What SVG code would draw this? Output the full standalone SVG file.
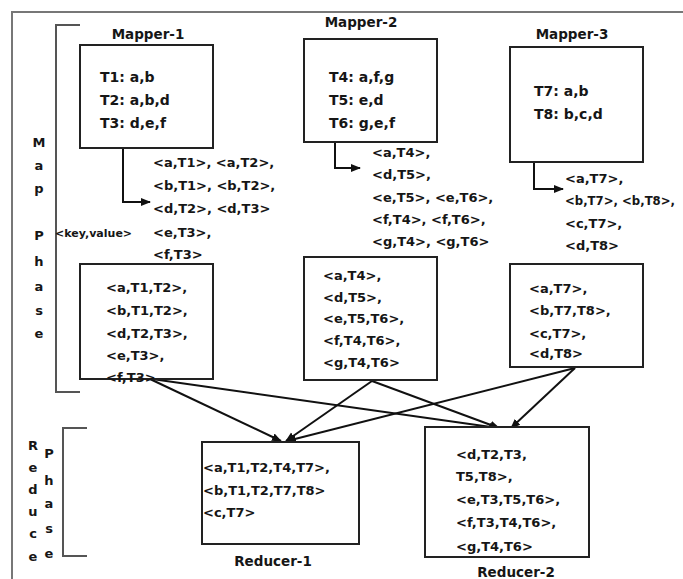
<svg xmlns="http://www.w3.org/2000/svg" width="683" height="579" viewBox="0 0 683 579">
<style>
text{font-family:"DejaVu Sans","Liberation Sans",sans-serif;font-weight:bold;fill:#161616}
.t{font-size:14px}
.k{font-size:13px}
.lab{font-size:13.5px;text-anchor:middle}
.ph{font-size:13px;text-anchor:middle}
.kv{font-size:11px}
.box{fill:#fff;stroke:#222;stroke-width:2}
.br{fill:none;stroke:#555;stroke-width:2}
.con{fill:none;stroke:#111;stroke-width:2}
</style>
<defs>
<marker id="ah" viewBox="0 0 10 10" refX="9" refY="5" markerWidth="10" markerHeight="10" markerUnits="userSpaceOnUse" orient="auto">
<path d="M0,1 L10,5 L0,9 z" fill="#111"/>
</marker>
</defs>
<rect width="683" height="579" fill="#fff"/>
<rect x="12" y="12" width="690" height="600" fill="none" stroke="#777" stroke-width="2"/>

<g id="map-phase">
<path class="br" d="M80,25 H56 V392 H80"/>
<text class="ph" x="39" y="147">M</text>
<text class="ph" x="39" y="170">a</text>
<text class="ph" x="39" y="193">p</text>
<text class="ph" x="39" y="240">P</text>
<text class="ph" x="39" y="266">h</text>
<text class="ph" x="39" y="291">a</text>
<text class="ph" x="39" y="315">s</text>
<text class="ph" x="39" y="338">e</text>
<text class="kv" x="55" y="237">&lt;key,value&gt;</text>
</g>

<g id="reduce-phase">
<path class="br" d="M87,428 H63 V556 H87"/>
<text class="ph" x="33" y="450">R</text>
<text class="ph" x="33" y="472">e</text>
<text class="ph" x="33" y="494">d</text>
<text class="ph" x="33" y="516">u</text>
<text class="ph" x="33" y="538">c</text>
<text class="ph" x="33" y="561">e</text>
<text class="ph" x="49" y="458">P</text>
<text class="ph" x="49" y="485">h</text>
<text class="ph" x="49" y="508">a</text>
<text class="ph" x="49" y="533">s</text>
<text class="ph" x="49" y="558">e</text>
</g>

<g id="connectors">
<polyline class="con" points="123,148 123,202 150,202" marker-end="url(#ah)"/>
<polyline class="con" points="335,142 335,168 360,168" marker-end="url(#ah)"/>
<polyline class="con" points="534,162 534,189 563,189" marker-end="url(#ah)"/>
<line class="con" x1="150" y1="379" x2="281" y2="441" marker-end="url(#ah)"/>
<line class="con" x1="152" y1="379" x2="498" y2="428" marker-end="url(#ah)"/>
<line class="con" x1="372" y1="381" x2="286" y2="441" marker-end="url(#ah)"/>
<line class="con" x1="372" y1="381" x2="499" y2="428" marker-end="url(#ah)"/>
<line class="con" x1="575" y1="368" x2="287" y2="441" marker-end="url(#ah)"/>
<line class="con" x1="575" y1="368" x2="511" y2="428" marker-end="url(#ah)"/>
</g>

<g id="mapper-1">
<text class="lab" x="148" y="39">Mapper-1</text>
<rect class="box" x="80" y="45" width="133" height="103"/>
<text class="t" x="100" y="82">T1: a,b</text>
<text class="t" x="100" y="105">T2: a,b,d</text>
<text class="t" x="100" y="128">T3: d,e,f</text>
</g>
<g id="mapper-2">
<text class="lab" x="361" y="27">Mapper-2</text>
<rect class="box" x="304" y="39" width="133" height="103"/>
<text class="t" x="329" y="82">T4: a,f,g</text>
<text class="t" x="329" y="105">T5: e,d</text>
<text class="t" x="329" y="128">T6: g,e,f</text>
</g>
<g id="mapper-3">
<text class="lab" x="572" y="39">Mapper-3</text>
<rect class="box" x="510" y="47" width="133" height="115"/>
<text class="t" x="534" y="96">T7: a,b</text>
<text class="t" x="534" y="119">T8: b,c,d</text>
</g>

<g id="pairs-1">
<text class="k" x="153" y="167">&lt;a,T1&gt;, &lt;a,T2&gt;,</text>
<text class="k" x="153" y="190">&lt;b,T1&gt;, &lt;b,T2&gt;,</text>
<text class="k" x="153" y="213">&lt;d,T2&gt;, &lt;d,T3&gt;</text>
<text class="k" x="153" y="237">&lt;e,T3&gt;,</text>
<text class="k" x="153" y="259">&lt;f,T3&gt;</text>
</g>
<g id="pairs-2">
<text class="k" x="372" y="157">&lt;a,T4&gt;,</text>
<text class="k" x="372" y="179">&lt;d,T5&gt;,</text>
<text class="k" x="372" y="202">&lt;e,T5&gt;, &lt;e,T6&gt;,</text>
<text class="k" x="372" y="224">&lt;f,T4&gt;, &lt;f,T6&gt;,</text>
<text class="k" x="372" y="246">&lt;g,T4&gt;, &lt;g,T6&gt;</text>
</g>
<g id="pairs-3">
<text class="k" x="565" y="183">&lt;a,T7&gt;,</text>
<text class="k" x="565" y="205" textLength="110" lengthAdjust="spacingAndGlyphs">&lt;b,T7&gt;, &lt;b,T8&gt;,</text>
<text class="k" x="565" y="228">&lt;c,T7&gt;,</text>
<text class="k" x="565" y="250">&lt;d,T8&gt;</text>
</g>

<g id="combined-1">
<rect class="box" x="80" y="264" width="133" height="115"/>
<text class="k" x="106" y="292">&lt;a,T1,T2&gt;,</text>
<text class="k" x="106" y="315">&lt;b,T1,T2&gt;,</text>
<text class="k" x="106" y="338">&lt;d,T2,T3&gt;,</text>
<text class="k" x="106" y="360">&lt;e,T3&gt;,</text>
<text class="k" x="106" y="382">&lt;f,T3&gt;</text>
</g>
<g id="combined-2">
<rect class="box" x="304" y="257" width="133" height="123"/>
<text class="k" x="323" y="280">&lt;a,T4&gt;,</text>
<text class="k" x="323" y="302">&lt;d,T5&gt;,</text>
<text class="k" x="323" y="323">&lt;e,T5,T6&gt;,</text>
<text class="k" x="323" y="345">&lt;f,T4,T6&gt;,</text>
<text class="k" x="323" y="367">&lt;g,T4,T6&gt;</text>
</g>
<g id="combined-3">
<rect class="box" x="510" y="264" width="133" height="103"/>
<text class="k" x="529" y="293">&lt;a,T7&gt;,</text>
<text class="k" x="529" y="315">&lt;b,T7,T8&gt;,</text>
<text class="k" x="529" y="338">&lt;c,T7&gt;,</text>
<text class="k" x="529" y="358">&lt;d,T8&gt;</text>
</g>

<g id="reducer-1">
<rect class="box" x="202" y="442" width="157" height="102"/>
<text class="k" x="203" y="472">&lt;a,T1,T2,T4,T7&gt;,</text>
<text class="k" x="203" y="495">&lt;b,T1,T2,T7,T8&gt;</text>
<text class="k" x="203" y="517">&lt;c,T7&gt;</text>
<text class="lab" x="273" y="566">Reducer-1</text>
</g>
<g id="reducer-2">
<rect class="box" x="425" y="427" width="164" height="130"/>
<text class="k" x="456" y="459">&lt;d,T2,T3,</text>
<text class="k" x="456" y="481">T5,T8&gt;,</text>
<text class="k" x="456" y="504">&lt;e,T3,T5,T6&gt;,</text>
<text class="k" x="456" y="527">&lt;f,T3,T4,T6&gt;,</text>
<text class="k" x="456" y="551">&lt;g,T4,T6&gt;</text>
<text class="lab" x="516" y="577">Reducer-2</text>
</g>
</svg>
